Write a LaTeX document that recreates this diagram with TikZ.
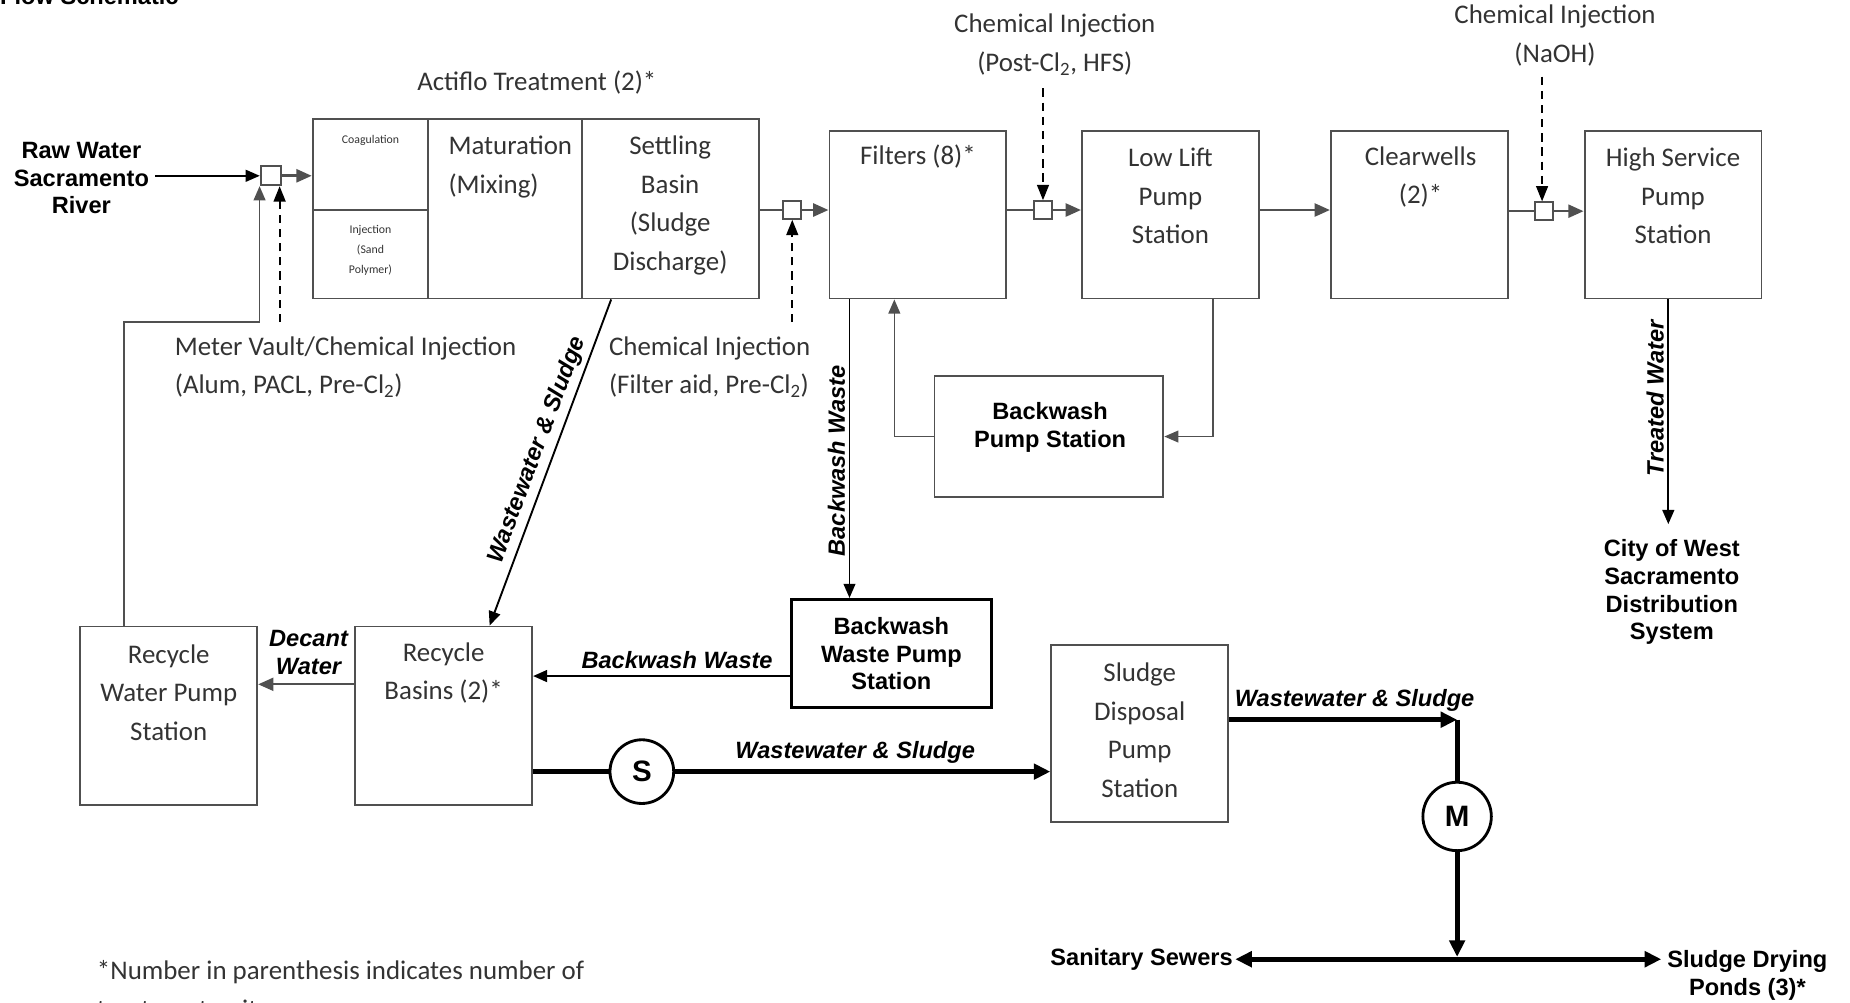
\documentclass[tikz,border=0pt]{standalone}
\usepackage{fontspec}
\setmainfont{Carlito}
\newfontfamily\arialfont{Liberation Sans}
\usetikzlibrary{arrows.meta}
\definecolor{boxgray}{HTML}{505050}
\definecolor{inkgray}{HTML}{333333}

\begin{document}
\begin{tikzpicture}[x=1pt, y=-1pt,
box/.style={draw=boxgray, line width=1.6pt, inner sep=0pt},
unit/.style={box, minimum width=150pt, minimum height=142pt},
basin/.style={box, minimum width=150pt, minimum height=151pt},
blackbox/.style={draw, line width=2.4pt, inner sep=0pt},
jct/.style={draw=boxgray, line width=1.6pt, fill=white, minimum size=15pt, inner sep=0pt},
txt/.style={font=\fontsize{22.8}{32.7}\selectfont, text=inkgray, align=center, inner sep=0pt},
smalltxt/.style={font=\fontsize{10}{17}\selectfont, text=inkgray, align=center, inner sep=0pt},
tag/.style={font={\fontsize{20}{23.5}\arialfont\bfseries}, align=center, inner sep=0pt},
lab/.style={font={\fontsize{20}{23.5}\arialfont\bfseries\itshape}, align=center, inner sep=0pt},
pipe/.style={draw=boxgray, line width=2.2pt},
flow/.style={pipe, -{Triangle[length=13pt, width=11pt]}},
feed/.style={draw=boxgray, line width=1.4pt, -{Triangle[length=12pt, width=10pt]}},
chem/.style={line width=1.6pt, dash pattern=on 7pt off 5pt, -{Triangle[length=13pt, width=10pt]}},
sludge/.style={line width=4.2pt, -{Triangle[length=14pt, width=13pt]}},
pump/.style={circle, draw, line width=2.4pt, fill=white, minimum size=54pt, inner sep=0pt,
  font={\fontsize{25}{25}\arialfont\bfseries}}]

\useasboundingbox (0,0) rectangle (1568,850);

\node[tag, anchor=base west] (title) at (0,4) {Flow Schematic};

\node[tag] (raw) at (69,151) {Raw Water\\Sacramento\\River};
\node[jct, minimum width=17pt, minimum height=16pt] (j1) at (229.5,149) {};

\node[txt] (act-t) at (455,70) {Actiflo Treatment (2)*};
\node[box, minimum width=98pt, minimum height=77pt] (coag) at (314,139.5) {};
\node[box, minimum width=98pt, minimum height=75pt] (inj) at (314,215.5) {};
\node[box, minimum width=130pt, minimum height=152pt] (mat) at (428,177) {};
\node[box, minimum width=150pt, minimum height=152pt] (sett) at (568,177) {};
\node[smalltxt] (coag-t) at (314,119) {Coagulation};
\node[smalltxt] (inj-t) at (314,212) {Injection\\(Sand\\Polymer)};
\node[txt, anchor=west, align=left] (mat-t) at (380,141.5) {Maturation\\(Mixing)};
\node[txt] (sett-t) at (568,174) {Settling\\Basin\\(Sludge\\Discharge)};

\node[unit] (filt) at (778,182) {};
\node[txt] (filt-t) at (778,133) {Filters (8)*};
\node[unit] (lift) at (992,182) {};
\node[txt] (lift-t) at (992,166) {Low Lift\\Pump\\Station};
\node[unit] (clear) at (1203,182) {};
\node[txt] (clear-t) at (1204,150) {Clearwells\\(2)*};
\node[unit] (hsps) at (1418,182) {};
\node[txt] (hsps-t) at (1418,166) {High Service\\Pump\\Station};

\node[jct] (j2) at (671.5,178) {};
\node[jct] (j3) at (884,178) {};
\node[jct] (j4) at (1308.5,179) {};

\node[txt] (ci3) at (894,38) {Chemical Injection\\(Post-Cl\textsubscript{2}, HFS)};
\node[txt] (ci4) at (1318,30) {Chemical Injection\\(NaOH)};
\node[txt, anchor=west, align=left] (ci2) at (516,311) {Chemical Injection\\(Filter aid, Pre-Cl\textsubscript{2})};
\node[txt, anchor=west, align=left] (ci1) at (148,311) {Meter Vault/Chemical Injection\\(Alum, PACL, Pre-Cl\textsubscript{2})};

\coordinate (c1) at (237,273);
\coordinate (c2) at (671.5,273);
\coordinate (c3) at (884,75);
\coordinate (c4) at (1307,65);
\draw[chem] (c1) -- (c1 |- j1.south);
\draw[chem] (c4) -- (c4 |- j4.north);
\foreach \c/\j/\s in {c2/j2/south, c3/j3/north} {
\draw[chem] (\c) -- (\j.\s);
};

\draw[feed, draw=black, line width=1.6pt] ([xshift=5pt]raw.east |- j1) -- (j1.west);
\draw[flow] (j1.east) -- (j1 -| coag.west);
\foreach \a/\j/\b in {sett/j2/filt, filt/j3/lift, clear/j4/hsps} {
\draw[pipe] (\a.east |- \j) -- (\j.west);
\draw[flow] (\j.east) -- (\j -| \b.west);
};
\draw[flow] (lift.east |- j3) -- (clear.west |- j3);

\node[tag] (city) at (1417,502) {City of West\\Sacramento\\Distribution\\System};
\draw[feed, draw=black, line width=1.6pt] ([xshift=-4pt]hsps.south) --
  node[lab, rotate=90, anchor=south, pos=0.44, yshift=3pt] {Treated Water}
  ([xshift=-3pt, yshift=13pt]city.north);

\node[box, minimum width=194pt, minimum height=102pt] (bps) at (889,370) {};
\node[tag] (bps-t) at (890,362) {Backwash\\Pump Station};
\draw[feed] ([xshift=36pt]lift.south) |- (bps.east);
\draw[feed] (bps.west) -| ([xshift=-20pt]filt.south);

\node[blackbox, tag, minimum width=169pt, minimum height=92pt] (bwps) at (755.5,554) {Backwash\\Waste Pump\\Station};
\draw[feed, draw=black] ([xshift=-58pt]filt.south) --
  node[lab, rotate=90, anchor=south, pos=0.54, yshift=3pt] {Backwash Waste}
  ([xshift=-35.5pt]bwps.north);

\node[basin] (rwps) at (143,606.5) {};
\node[txt] (rwps-t) at (143,587) {Recycle\\Water Pump\\Station};
\node[basin] (rbas) at (376,606.5) {};
\node[txt] (rbas-t) at (376,570.5) {Recycle\\Basins (2)*};

\coordinate (rec) at (220,273);
\draw[feed] ([xshift=-38pt]rwps.north) |- (rec) -- (rec |- j1.south);
\draw[feed, draw=black, line width=1.6pt] ([xshift=-50pt]sett.south) --
  node[lab, sloped, above=4pt, pos=0.48] {Wastewater \& Sludge}
  ([xshift=39pt]rbas.north);

\draw[flow, line width=2pt] ([yshift=26.5pt]rbas.west) --
  node[lab, above=7pt, xshift=2pt] {Decant\\Water} ([yshift=26.5pt]rwps.east);

\coordinate (bw) at ([yshift=-19pt]bwps.west);
\draw[feed, draw=black, line width=2pt] (bw) --
  node[lab, above=5pt, pos=0.44] {Backwash Waste} (bw -| rbas.east);

\node[pump] (spump) at (544,654) {S};
\node[box, minimum width=150pt, minimum height=150pt] (sdps) at (966,622) {};
\node[txt] (sdps-t) at (966,619) {Sludge\\Disposal\\Pump\\Station};
\draw[line width=4.2pt] (rbas.east |- spump) -- (spump.west);
\draw[sludge] (spump.east) --
  node[lab, above=5pt, pos=0.48] {Wastewater \& Sludge} (spump -| sdps.west);

\node[pump, minimum size=58pt] (mpump) at (1235,692) {M};
\coordinate (bend) at (1235,610);
\draw[sludge] (bend -| sdps.east) --
  node[lab, above=5pt, pos=0.55] {Wastewater \& Sludge} (bend);
\draw[line width=4.2pt] (bend) -- (mpump.north);

\node[tag, anchor=east] (sewer) at (1045,813) {Sanitary Sewers};
\node[tag, anchor=north] (ponds) at (1481,805.5) {Sludge Drying\\Ponds (3)*};
\coordinate (mj) at (1235,811);
\draw[sludge] (mpump.south) -- (mj);
\draw[sludge, {Triangle[length=14pt, width=13pt]}-{Triangle[length=14pt, width=13pt]}]
  ([xshift=2pt]sewer.east) -- ([xshift=-5pt]sewer -| ponds.west);

\node[txt, anchor=west, align=left] (note) at (82,838.5) {*Number in parenthesis indicates number of\\treatment units.};

\end{tikzpicture}
\end{document}
